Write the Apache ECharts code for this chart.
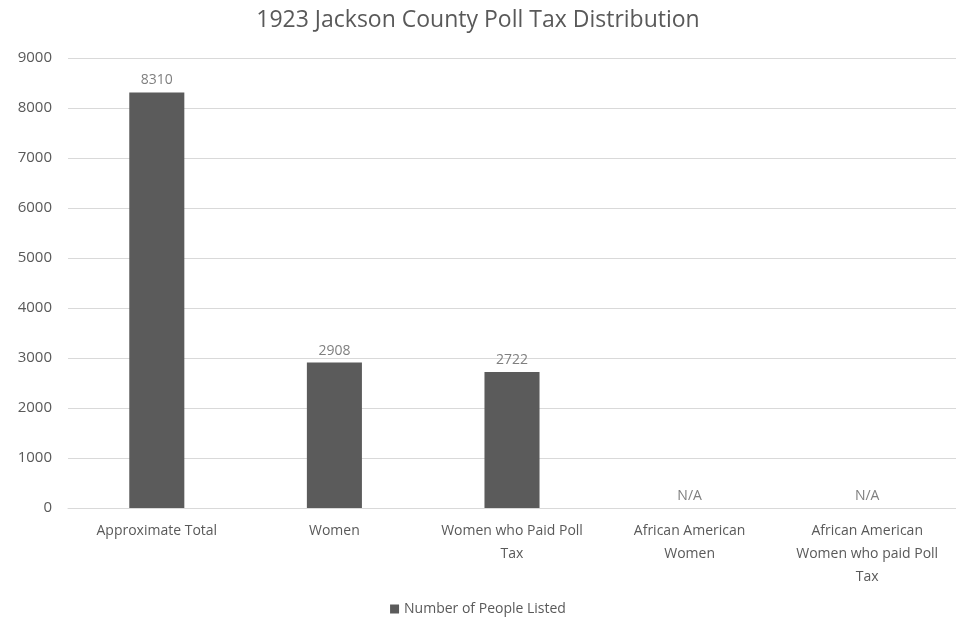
<!DOCTYPE html>
<html>
<head>
<meta charset="utf-8">
<script src="https://cdn.jsdelivr.net/npm/echarts@6/dist/echarts.min.js"></script>
<style>
  html, body { margin: 0; padding: 0; background: #fff; }
  #chart { width: 956px; height: 620px; }
</style>
</head>
<body>
<div id="chart"></div>
<script>
// categories and values (null = N/A)
const categories = [
  'Approximate Total',
  'Women',
  'Women who Paid Poll\nTax',
  'African American\nWomen',
  'African American\nWomen who paid Poll\nTax'
]
const peopleListed = [8310, 2908, 2722, null, null]
const yTicks = [0, 1000, 2000, 3000, 4000, 5000, 6000, 7000, 8000, 9000]

const textColor = '#595959'
const fontName = '"Open Sans", "Noto Sans", sans-serif'

const chart = echarts.init(document.getElementById('chart'))

// missing values get a zero-height bar so the label can say N/A
const barData = peopleListed.map(v => v == null
  ? { value: 0, label: { formatter: 'N/A' } }
  : v)

const option = {
  animation: false,
  textStyle: { fontFamily: fontName },
  title: {
    text: '1923 Jackson County Poll Tax Distribution',
    left: 'center',
    top: 4,
    textStyle: { fontSize: 23, fontWeight: 'normal', color: textColor, fontFamily: fontName }
  },
  legend: {
    bottom: -1,
    left: 'center',
    itemWidth: 9,
    itemHeight: 9,
    icon: 'rect',
    itemGap: 5,
    textStyle: { fontSize: 14, color: textColor, fontFamily: fontName },
    data: ['Number of People Listed']
  },
  grid: { left: 68, right: 0, top: 58, bottom: 112, containLabel: false },
  xAxis: {
    type: 'category',
    data: categories,
    axisLine: { lineStyle: { color: '#d9d9d9' } },
    axisTick: { show: false },
    axisLabel: {
      color: textColor,
      fontSize: 14,
      lineHeight: 23,
      margin: 12,
      interval: 0
    }
  },
  yAxis: {
    type: 'value',
    min: yTicks[0],
    max: yTicks[yTicks.length - 1],
    interval: 1000,
    axisLine: { show: false },
    axisTick: { show: false },
    splitLine: { lineStyle: { color: '#d9d9d9' } },
    axisLabel: { color: textColor, fontSize: 15, margin: 16, formatter: v => String(v) }
  },
  series: [{
    name: 'Number of People Listed',
    type: 'bar',
    data: barData,
    barWidth: '31%',
    itemStyle: { color: '#5b5b5b' },
    label: {
      show: true,
      position: 'top',
      distance: 5,
      color: '#7f7f7f',
      fontSize: 14
    }
  }]
}

chart.setOption(option)
</script>
</body>
</html>
